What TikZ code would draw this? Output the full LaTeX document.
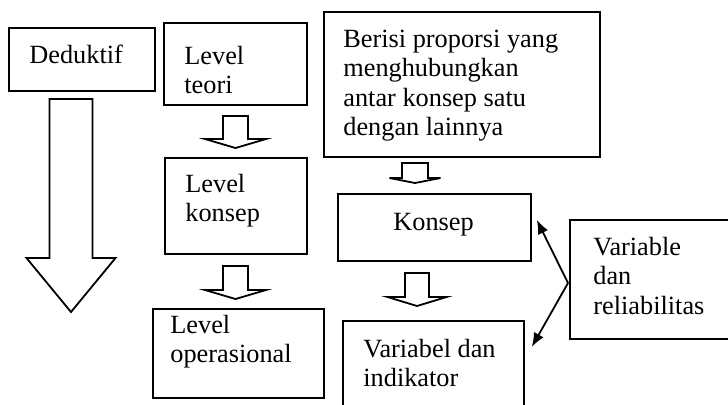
\documentclass[tikz,border=0pt]{standalone}
\usepackage{fontspec}
\setmainfont{Liberation Serif}
\usetikzlibrary{arrows.meta}

\tikzset{
  box/.style={draw, line width=0.9pt, inner sep=0pt, anchor=north west},
  txt/.style={inner sep=0pt, anchor=base west,
    font=\fontsize{13.15pt}{14.75pt}\selectfont},
  hollow/.style={draw, line width=0.9pt, fill=white, line join=miter},
  conn/.style={line width=0.9pt, -{Latex[length=7pt, width=5.5pt]}}
}
% box from top left (x1,y1) to bottom right (x2,y2), in pixels
\newcommand{\boxat}[5]{%
  \node[box, minimum width={(#4-#2)*0.5pt}, minimum height={(#5-#3)*0.5pt}] (#1) at (#2,#3) {};}
% hollow down arrow: centre x, half shaft, half head, top, head, tip
\newcommand{\hollowdown}[6]{%
  \draw[hollow] (#1-#2,#4) -- (#1-#2,#5) -- (#1-#3,#5) -- (#1,#6)
    -- (#1+#3,#5) -- (#1+#2,#5) -- (#1+#2,#4) -- cycle;}
% lines on the baseline of the first one
\newcommand{\toplines}[1]{\vtop{\let\\\cr\halign{##\hfil\cr#1\crcr}}}

\begin{document}
\begin{tikzpicture}[x=0.5pt, y=-0.5pt]
			%%Location
			\useasboundingbox (0,0) rectangle (728,404);
			\clip (0,0) rectangle (728,404);
			%%Boxes
			\boxat{ded}{8}{27}{154}{90}
			\boxat{teori}{163}{22}{306}{104}
			\boxat{berisi}{323}{11}{599}{156}
			\boxat{konsepLvl}{164}{157}{306}{253}
			\boxat{konsep}{337}{193}{530}{260}
			\boxat{varrel}{569}{219}{745}{338}
			\boxat{opr}{152}{308}{323}{397}
			\boxat{varind}{342}{320}{523}{425}
			%%Hollow arrows
			\hollowdown{71}{21.5}{44.5}{99}{258}{312}
			\hollowdown{235.5}{12.5}{30.5}{116}{139}{148}
			\hollowdown{235.5}{12.5}{30.5}{266}{290}{299}
			\hollowdown{415}{13}{25.5}{163}{178}{183}
			\hollowdown{417}{12}{29.5}{273}{297}{306}
			%%Label
			\node[txt] (tDed) at (29,63) {Deduktif};
			\node[txt] (tTeori) at (184,64) {\toplines{Level\\teori}};
			\node[txt] (tKonsepLvl) at (185,192) {\toplines{Level\\konsep}};
			\node[txt] (tOpr) at (170,333) {\toplines{Level\\operasional}};
			\node[txt] (tBerisi) at (343,47) {\toplines{Berisi proporsi yang\\menghubungkan\\antar konsep satu\\dengan lainnya}};
			\node[txt] (tKonsep) at (393,230) {Konsep};
			\node[txt] (tVarrel) at (593,255) {\toplines{Variable\\dan\\reliabilitas}};
			\node[txt] (tVarind) at (363,357) {\toplines{Variabel dan\\indikator}};
			%%Connectors
			\coordinate (vsrc) at (568,283);
			\draw[conn] (vsrc) -- ([shift={(5,-7.5)}]konsep.east);
			\draw[conn] (vsrc) -- ([shift={(7,-26.5)}]varind.east);
\end{tikzpicture}
\end{document}
